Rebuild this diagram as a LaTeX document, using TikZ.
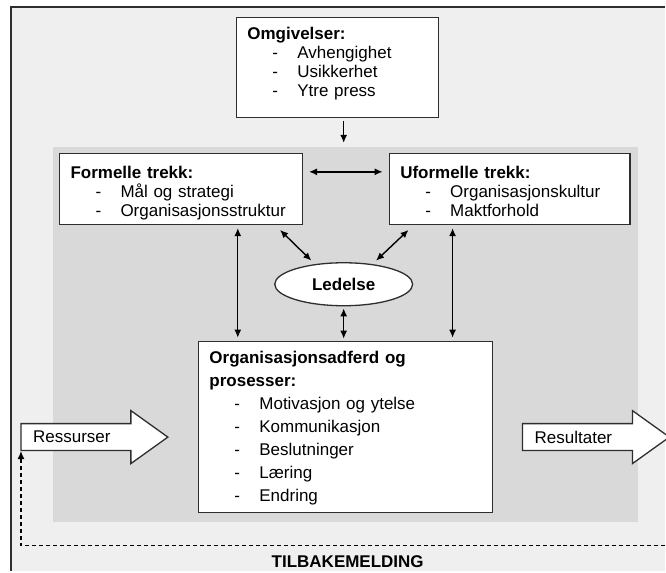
\documentclass[tikz,border=0pt]{standalone}
\usepackage{fontspec}
\setmainfont{Liberation Sans}
\usetikzlibrary{arrows.meta,shapes.geometric}
\definecolor{ytre}{HTML}{EFEFEF}
\definecolor{kjernegraa}{HTML}{D9D9D9}
\definecolor{strek}{HTML}{2E2E2E}
\newcommand{\punkt}[1]{\\\hspace*{25pt}\makebox[25pt][l]{-}#1}
\begin{document}
\begin{tikzpicture}[x=1pt,y=-1pt,
    boks/.style={draw=strek,line width=1.3pt,fill=white,align=left,anchor=north west,
      inner xsep=11pt,inner ysep=10pt,text height=12pt,font=\fontsize{17pt}{19pt}\selectfont},
    blokkpil/.style={draw=strek,line width=1.3pt,fill=white},
    tekst/.style={font=\fontsize{17pt}{19pt}\selectfont,inner sep=0pt},
    pil/.style={-{Latex[length=8pt,width=7pt]}},
    dobbelpil/.style={line width=1.4pt,{Latex[length=8pt,width=7pt]}-{Latex[length=8pt,width=7pt]}}]
  \fill[white] (0,0) rectangle (666,572);
  \fill[ytre] (11,7) rectangle (666,572);
  \draw[strek,line width=1.2pt] (11,572) -- (11,7) -- (666,7);
  \useasboundingbox (0,0) rectangle (666,572);
  \node[fill=kjernegraa,minimum width=585pt,minimum height=375pt,inner sep=0pt,anchor=north west] (kjerne) at (53,147) {};
  \node[boks,text width=180pt,text depth=68pt] (omg) at (236,17)
    {\textbf{Omgivelser:}\punkt{Avhengighet}\punkt{Usikkerhet}\punkt{Ytre press}};
  \node[boks,inner ysep=13pt,text width=221pt,text depth=33pt] (formell) at (59,153)
    {\textbf{Formelle trekk:}\punkt{Mål og strategi}\punkt{Organisasjonsstruktur}};
  \node[boks,inner ysep=13pt,text width=219pt,text depth=33pt] (uformell) at (389,153)
    {\textbf{Uformelle trekk:}\punkt{Organisasjonskultur}\punkt{Maktforhold}};
  \node[draw=strek,line width=1.3pt,fill=white,ellipse,minimum width=138pt,minimum height=43pt,
    inner sep=0pt,font=\bfseries\fontsize{17pt}{19pt}\selectfont] (ledelse) at (344,284.5) {Ledelse};
  \node[boks,text width=272pt,text depth=139pt,font=\fontsize{17pt}{23pt}\selectfont] (org) at (198,341)
    {\textbf{Organisasjonsadferd og}\\\textbf{prosesser:}\punkt{Motivasjon og ytelse}\punkt{Kommunikasjon}\punkt{Beslutninger}\punkt{Læring}\punkt{Endring}};
  \draw[blokkpil] (21,424) -- (131,424) -- (131,411) -- (168,437.5) -- (131,464) -- (131,451) -- (21,451) -- cycle;
  \node[tekst,anchor=west] (ressurser) at (33,437.5) {Ressurser};
  \draw[blokkpil] (523,424) -- (633,424) -- (633,411) -- (670,437.5) -- (633,464) -- (633,451) -- (523,451) -- cycle;
  \node[tekst,anchor=west] (resultater) at (535,437.5) {Resultater};
  \coordinate (retur) at (680,546);
  \coordinate (ressurshjorne) at (21,451.5);
  \node[tekst,font=\bfseries\fontsize{17pt}{19pt}\selectfont] (tilbake) at (348,562) {TILBAKEMELDING};
  \begin{scope}[dobbelpil]
    \draw[pil,shorten <=3pt,shorten >=4pt] (omg.south -| ledelse) -- (kjerne.north -| ledelse);
    \draw[shorten <=6pt,shorten >=6pt] ([yshift=-19pt]formell.north east) -- ([yshift=-19pt]uformell.north west);
    \draw[shorten <=3pt,shorten >=3pt] (formell.south -| 238,0) -- (org.north -| 238,0);
    \draw[shorten <=3pt,shorten >=3pt] (uformell.south -| 453,0) -- (org.north -| 453,0);
    \draw[shorten <=7pt,shorten >=5pt] ([xshift=-28pt]formell.south east) -- (ledelse.145);
    \draw[shorten <=7pt,shorten >=5pt] ([xshift=25pt]uformell.south west) -- (ledelse.35);
    \draw[shorten <=2pt,shorten >=2pt] (ledelse.south) -- (org.north -| ledelse);
  \end{scope}
  \draw[pil,line width=1.2pt,dash pattern=on 4pt off 3pt] (retur) -| (ressurshjorne);
\end{tikzpicture}
\end{document}
